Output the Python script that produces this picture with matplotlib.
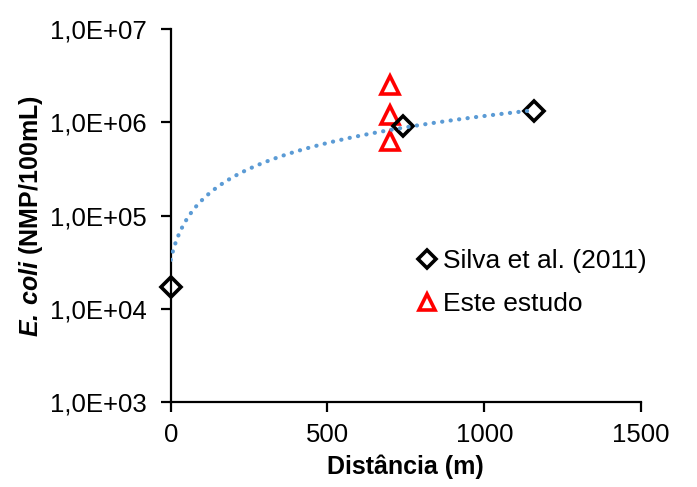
# E. coli vs distance - log scale scatter with linear trendline (Silva et al. fit)

import numpy as np
import matplotlib
matplotlib.use("Agg")
import matplotlib.pyplot as plt
from matplotlib.ticker import FixedLocator, FuncFormatter, NullLocator

plt.rcParams["font.family"] = ["Liberation Sans", "DejaVu Sans"]
plt.rcParams["mathtext.fontset"] = "custom"
plt.rcParams["mathtext.bfit"] = "Liberation Sans:italic:bold"
plt.rcParams["mathtext.rm"] = "Liberation Sans:bold"

# Silva et al. (2011)
silva_dist = [0, 741, 1159]
silva_ecoli = [1.72e4, 9.2e5, 1.32e6]

# Este estudo
este_dist = [700, 700, 700]
este_ecoli = [2.5e6, 1.2e6, 6.3e5]

y_ticks = [1e3, 1e4, 1e5, 1e6, 1e7]
x_ticks = [0, 500, 1000, 1500]

TREND_COLOR = "#5B9BD5"


def sci_comma(v, pos):
    return f"{v:.1E}".replace(".", ",")


fig = plt.figure(figsize=(6.97, 4.87), dpi=100)
ax = fig.add_axes([0.2449, 0.1739, 0.9197 - 0.2449, 0.9405 - 0.1739])

# linear trendline through Silva points, like Excel's "Linear" option
slope, intercept = np.polyfit(silva_dist, silva_ecoli, 1)
xs = np.linspace(min(silva_dist), max(silva_dist), 300)

ax.plot(este_dist, este_ecoli, linestyle="none", marker="^", markersize=13,
        markerfacecolor="none", markeredgecolor="#FF0000", markeredgewidth=2.6,
        label="Este estudo", zorder=3, clip_on=False)
ax.plot(silva_dist, silva_ecoli, linestyle="none", marker="D", markersize=10.5,
        markerfacecolor="none", markeredgecolor="black", markeredgewidth=2.6,
        label="Silva et al. (2011)", zorder=4, clip_on=False)
ax.plot(xs, slope * xs + intercept, color=TREND_COLOR, linewidth=3,
        linestyle=(0, (0.05, 2.0)), dash_capstyle="round", zorder=5)

ax.set_yscale("log")
ax.set_ylim(1e3, 1e7)
ax.set_xlim(0, 1500)
ax.yaxis.set_major_locator(FixedLocator(y_ticks))
ax.yaxis.set_minor_locator(NullLocator())
ax.yaxis.set_major_formatter(FuncFormatter(sci_comma))
ax.xaxis.set_major_locator(FixedLocator(x_ticks))

for side in ("top", "right"):
    ax.spines[side].set_visible(False)
for side in ("left", "bottom"):
    ax.spines[side].set_linewidth(1.6)
ax.tick_params(axis="both", direction="out", length=7, width=1.6,
               labelsize=18.5, colors="black")
ax.tick_params(axis="y", pad=10)
ax.tick_params(axis="x", pad=8)

ax.set_xlabel("Distância (m)", fontsize=18, fontweight="bold", labelpad=5)
ax.set_ylabel(r"$\mathbfit{E.}\,\mathbfit{coli}$ (NMP/100mL)", fontsize=18,
              fontweight="bold", labelpad=4)

handles, labels = ax.get_legend_handles_labels()
ax.legend(handles[::-1], labels[::-1], loc="center left",
          bbox_to_anchor=(0.5, 0.32), frameon=False, fontsize=19,
          handlelength=0.6, handletextpad=0.3, labelspacing=0.72,
          markerscale=0.85, borderpad=0)

fig.savefig("out.png", dpi=100)
